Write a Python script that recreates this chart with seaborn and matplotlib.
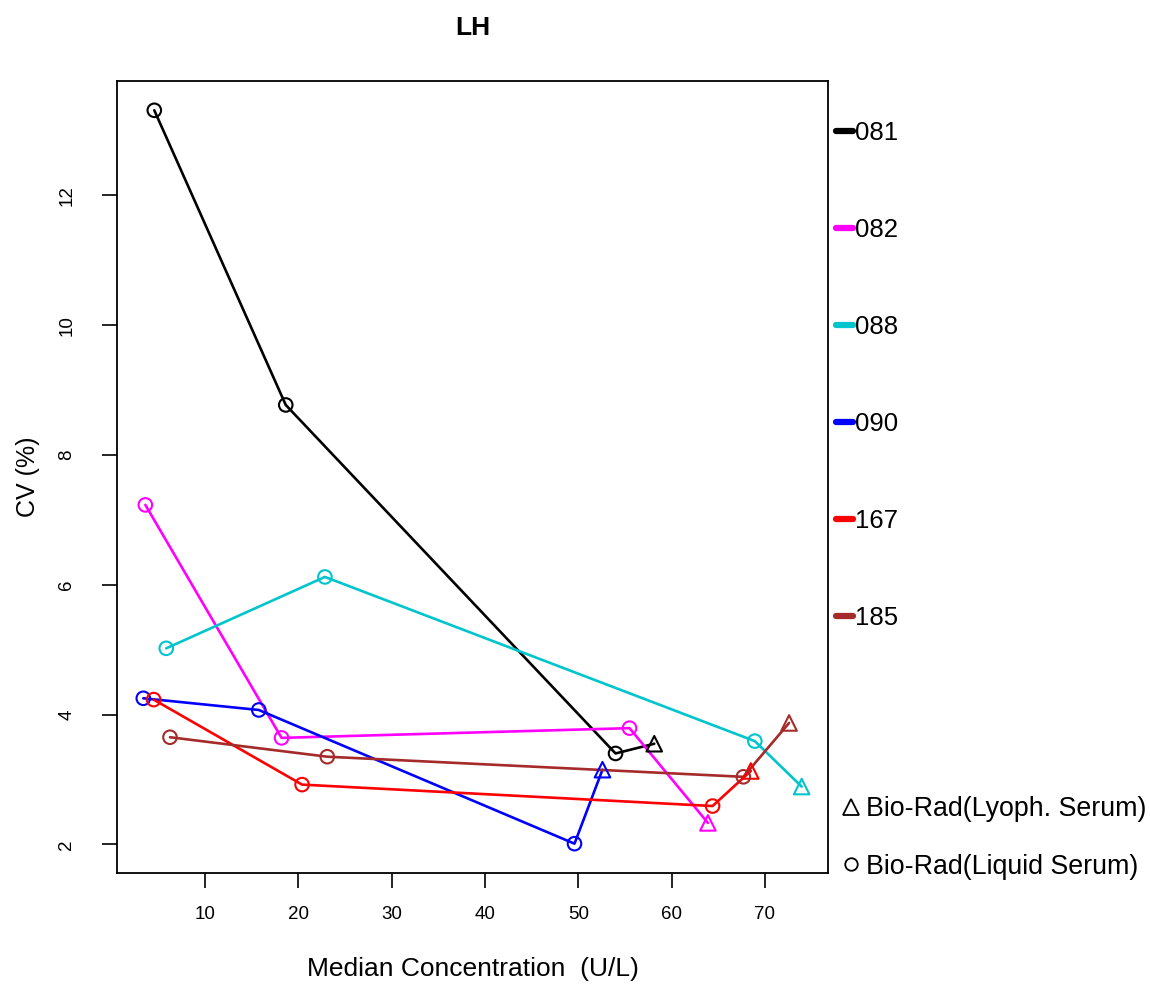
import matplotlib
matplotlib.use("Agg")
import matplotlib.pyplot as plt
from matplotlib.lines import Line2D
import seaborn as sns
import pandas as pd

# === Data (LH, CV vs median concentration) ===
labs = ["081", "082", "088", "090", "167", "185"]
lab_colors = ["#000000", "#FF00FF", "#00C5CD", "#0000FF", "#FF0000", "#A52A2A"]

conc_081 = [4.56, 18.65, 54.0, 58.15]
cv_081 = [13.31, 8.77, 3.40, 3.55]
mat_081 = ["Liquid", "Liquid", "Liquid", "Lyoph"]

conc_082 = [3.60, 18.2, 55.5, 63.9]
cv_082 = [7.23, 3.64, 3.79, 2.33]
mat_082 = ["Liquid", "Liquid", "Liquid", "Lyoph"]

conc_088 = [5.84, 22.85, 68.93, 73.95]
cv_088 = [5.02, 6.12, 3.59, 2.89]
mat_088 = ["Liquid", "Liquid", "Liquid", "Lyoph"]

conc_090 = [3.38, 15.76, 49.6, 52.6]
cv_090 = [4.25, 4.07, 2.01, 3.15]
mat_090 = ["Liquid", "Liquid", "Liquid", "Lyoph"]

conc_167 = [4.49, 20.4, 64.4, 68.5]
cv_167 = [4.23, 2.92, 2.59, 3.13]
mat_167 = ["Liquid", "Liquid", "Liquid", "Lyoph"]

conc_185 = [6.24, 23.1, 67.7, 72.6]
cv_185 = [3.65, 3.35, 3.04, 3.87]
mat_185 = ["Liquid", "Liquid", "Liquid", "Lyoph"]

x_ticks = [10, 20, 30, 40, 50, 60, 70]
y_ticks = [2, 4, 6, 8, 10, 12]

# build long table
rows = []
for lab, xs, ys, ms in [("081", conc_081, cv_081, mat_081),
                        ("082", conc_082, cv_082, mat_082),
                        ("088", conc_088, cv_088, mat_088),
                        ("090", conc_090, cv_090, mat_090),
                        ("167", conc_167, cv_167, mat_167),
                        ("185", conc_185, cv_185, mat_185)]:
    for i, (x, y, m) in enumerate(zip(xs, ys, ms)):
        rows.append({"lab": lab, "conc": x, "cv": y, "material": m, "order": i})
df = pd.DataFrame(rows)
palette = dict(zip(labs, lab_colors))

sns.set_style("ticks")
plt.rcParams["font.family"] = ["Liberation Sans", "DejaVu Sans"]
plt.rcParams["text.color"] = "black"
plt.rcParams["axes.labelcolor"] = "black"

fig = plt.figure(figsize=(11.5, 9.85), dpi=100)
ax = fig.add_axes([0.1017, 0.1137, 0.6183, 0.8041])

# lines connecting each lab's points
sns.lineplot(data=df, x="conc", y="cv", hue="lab", palette=palette, sort=False,
             estimator=None, units="lab", linewidth=1.9, legend=False, ax=ax)

# open markers: circles = liquid serum, triangles = lyophilised serum
marker_map = {"Liquid": "o", "Lyoph": "^"}
size_map = {"Liquid": 95, "Lyoph": 125}
for (lab, mat), sub in df.groupby(["lab", "material"]):
    ax.scatter(sub["conc"], sub["cv"], marker=marker_map[mat], s=size_map[mat],
               facecolors="none", edgecolors=palette[lab], linewidths=1.5, zorder=3)

# R-style 4% axis expansion
xr = df["conc"].max() - df["conc"].min()
yr = df["cv"].max() - df["cv"].min()
ax.set_xlim(df["conc"].min() - 0.04 * xr, df["conc"].max() + 0.04 * xr)
ax.set_ylim(df["cv"].min() - 0.04 * yr, df["cv"].max() + 0.04 * yr)

ax.set_xticks(x_ticks)
ax.set_yticks(y_ticks)
ax.tick_params(axis="both", direction="out", length=11, width=1.2, labelsize=13.5,
               colors="black")
ax.tick_params(axis="x", pad=13)
ax.tick_params(axis="y", pad=19)
for lbl in ax.get_yticklabels():
    lbl.set_rotation(90)
    lbl.set_va("center")
for sp in ax.spines.values():
    sp.set_visible(True)
    sp.set_linewidth(1.3)
    sp.set_color("black")

ax.set_xlabel("Median Concentration  (U/L)", fontsize=19, labelpad=24)
ax.set_ylabel("CV (%)", fontsize=18, labelpad=13)
fig.text(473 / 1150, 1 - 28 / 985, "LH", fontsize=19, fontweight="bold",
         ha="center", va="center")

# lab legend outside on the right
lab_handles = [Line2D([0], [0], color=c, lw=4.5, solid_capstyle="round") for c in lab_colors]
fig.legend(lab_handles, labs, loc="upper left",
           bbox_to_anchor=(836 / 1150, 1 - 121 / 985), frameon=False,
           fontsize=18.5, handlelength=0.66, handletextpad=0.08,
           labelspacing=2.84, borderpad=0, borderaxespad=0)

mat_handles = [Line2D([0], [0], marker="^", color="black", lw=0, markerfacecolor="none",
                      markersize=12, markeredgewidth=1.3),
               Line2D([0], [0], marker="o", color="black", lw=0, markerfacecolor="none",
                      markersize=9, markeredgewidth=1.3)]
fig.legend(mat_handles, ["Bio-Rad(Lyoph. Serum)", "Bio-Rad(Liquid Serum)"],
           loc="upper left", bbox_to_anchor=(842 / 1150, 1 - 796 / 985), frameon=False,
           fontsize=19.3, handlelength=0.7, handletextpad=0.18, labelspacing=1.18,
           borderpad=0, borderaxespad=0)

fig.savefig("out.png", dpi=100)
plt.close(fig)
